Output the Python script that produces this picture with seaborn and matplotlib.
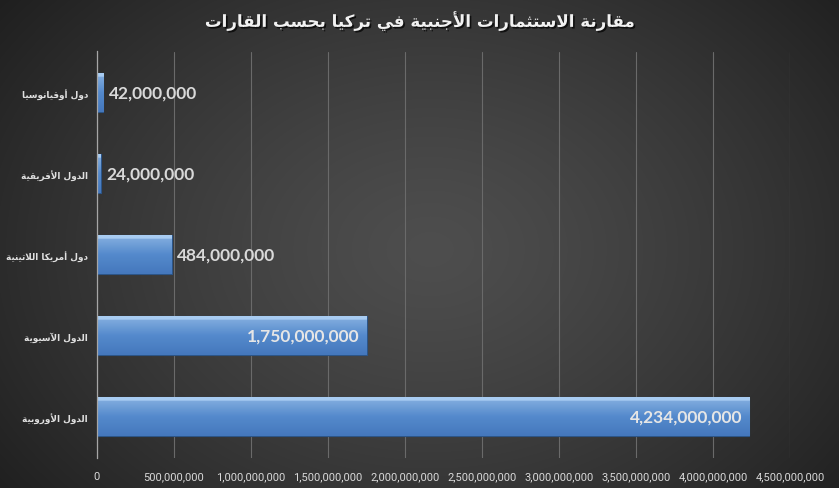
import numpy as np
import pandas as pd
import matplotlib
matplotlib.use("Agg")
import matplotlib.pyplot as plt
import matplotlib.patheffects as pe
import seaborn as sns

# ---------------- data ----------------
categories = ["دول أوقيانوسيا", "الدول الأفريقية", "دول أمريكا اللاتينية",
              "الدول الآسيوية", "الدول الأوروبية"]
values = [42000000, 24000000, 484000000, 1750000000, 4234000000]
value_labels = ["42,000,000", "24,000,000", "484,000,000", "1,750,000,000", "4,234,000,000"]
label_inside = [False, False, False, True, True]
x_ticks = [0, 500000000, 1000000000, 1500000000, 2000000000, 2500000000,
           3000000000, 3500000000, 4000000000, 4500000000]
x_tick_labels = ["0", "500,000,000", "1,000,000,000", "1,500,000,000", "2,000,000,000",
                 "2,500,000,000", "3,000,000,000", "3,500,000,000", "4,000,000,000",
                 "4,500,000,000"]
title = "مقارنة الاستثمارات الأجنبية في تركيا بحسب القارات"

# ------------- minimal Arabic shaping (presentation forms + RTL) -------------
FORMS = {
    '\u0621': ('\uFE80',),
    '\u0622': ('\uFE81', '\uFE82'), '\u0623': ('\uFE83', '\uFE84'),
    '\u0624': ('\uFE85', '\uFE86'), '\u0625': ('\uFE87', '\uFE88'),
    '\u0626': ('\uFE89', '\uFE8A', '\uFE8B', '\uFE8C'),
    '\u0627': ('\uFE8D', '\uFE8E'),
    '\u0628': ('\uFE8F', '\uFE90', '\uFE91', '\uFE92'),
    '\u0629': ('\uFE93', '\uFE94'),
    '\u062A': ('\uFE95', '\uFE96', '\uFE97', '\uFE98'),
    '\u062B': ('\uFE99', '\uFE9A', '\uFE9B', '\uFE9C'),
    '\u062C': ('\uFE9D', '\uFE9E', '\uFE9F', '\uFEA0'),
    '\u062D': ('\uFEA1', '\uFEA2', '\uFEA3', '\uFEA4'),
    '\u062E': ('\uFEA5', '\uFEA6', '\uFEA7', '\uFEA8'),
    '\u062F': ('\uFEA9', '\uFEAA'), '\u0630': ('\uFEAB', '\uFEAC'),
    '\u0631': ('\uFEAD', '\uFEAE'), '\u0632': ('\uFEAF', '\uFEB0'),
    '\u0633': ('\uFEB1', '\uFEB2', '\uFEB3', '\uFEB4'),
    '\u0634': ('\uFEB5', '\uFEB6', '\uFEB7', '\uFEB8'),
    '\u0635': ('\uFEB9', '\uFEBA', '\uFEBB', '\uFEBC'),
    '\u0636': ('\uFEBD', '\uFEBE', '\uFEBF', '\uFEC0'),
    '\u0637': ('\uFEC1', '\uFEC2', '\uFEC3', '\uFEC4'),
    '\u0638': ('\uFEC5', '\uFEC6', '\uFEC7', '\uFEC8'),
    '\u0639': ('\uFEC9', '\uFECA', '\uFECB', '\uFECC'),
    '\u063A': ('\uFECD', '\uFECE', '\uFECF', '\uFED0'),
    '\u0641': ('\uFED1', '\uFED2', '\uFED3', '\uFED4'),
    '\u0642': ('\uFED5', '\uFED6', '\uFED7', '\uFED8'),
    '\u0643': ('\uFED9', '\uFEDA', '\uFEDB', '\uFEDC'),
    '\u0644': ('\uFEDD', '\uFEDE', '\uFEDF', '\uFEE0'),
    '\u0645': ('\uFEE1', '\uFEE2', '\uFEE3', '\uFEE4'),
    '\u0646': ('\uFEE5', '\uFEE6', '\uFEE7', '\uFEE8'),
    '\u0647': ('\uFEE9', '\uFEEA', '\uFEEB', '\uFEEC'),
    '\u0648': ('\uFEED', '\uFEEE'), '\u0649': ('\uFEEF', '\uFEF0'),
    '\u064A': ('\uFEF1', '\uFEF2', '\uFEF3', '\uFEF4'),
}
LAM_ALEF = {'\u0622': ('\uFEF5', '\uFEF6'), '\u0623': ('\uFEF7', '\uFEF8'),
            '\u0625': ('\uFEF9', '\uFEFA'), '\u0627': ('\uFEFB', '\uFEFC')}


def shape(text):
    toks = []
    i = 0
    while i < len(text):
        c = text[i]
        if c == '\u0644' and i + 1 < len(text) and text[i + 1] in LAM_ALEF:
            toks.append(LAM_ALEF[text[i + 1]])
            i += 2
            continue
        toks.append(FORMS.get(c, c))
        i += 1
    out = []
    n = len(toks)
    for k, t in enumerate(toks):
        if isinstance(t, str):
            out.append(t)
            continue
        prev = toks[k - 1] if k > 0 else None
        nxt = toks[k + 1] if k + 1 < n else None
        cp = isinstance(prev, tuple) and len(prev) == 4
        cn = len(t) == 4 and isinstance(nxt, tuple)
        if len(t) == 1:
            out.append(t[0])
        elif cp and cn:
            out.append(t[3])
        elif cp:
            out.append(t[1])
        elif cn:
            out.append(t[2])
        else:
            out.append(t[0])
    return ''.join(out)[::-1]


# ---------------- figure ----------------
sns.set_theme(style="white")
plt.rcParams['font.family'] = ['DejaVu Sans']

W, H = 839, 489
fig = plt.figure(figsize=(W / 100, H / 100), dpi=100)

# radial gradient background
bg = fig.add_axes([0, 0, 1, 1], zorder=-10)
yy, xx = np.mgrid[0:H, 0:W]
r = np.sqrt(((xx - 430) / 560.0) ** 2 + ((yy - 250) / 420.0) ** 2)
r = np.clip(r, 0, 1)
val = 0.305 - 0.19 * r ** 1.3
bg.imshow(np.dstack([val, val, val]), aspect='auto', extent=[0, 1, 0, 1])
bg.set_axis_off()

ax = fig.add_axes([97 / W, 1 - 458.5 / H, 693 / W, 406 / H])
ax.set_facecolor('none')

df = pd.DataFrame({"category": categories, "value": values})
sns.barplot(data=df, x="value", y="category", orient="h", ax=ax,
            color="#4f86c6", width=0.48, edgecolor="#2c5588", linewidth=0.8,
            saturation=1, zorder=3)

# gradient fill for each bar
grad = np.linspace(0, 1, 64)
top_c = np.array([0.50, 0.67, 0.87])
mid_c = np.array([0.33, 0.54, 0.80])
bot_c = np.array([0.27, 0.47, 0.74])
rows = []
for g in grad:
    if g < 0.08:
        c = np.array([0.66, 0.80, 0.95])
    elif g < 0.5:
        t = (g - 0.08) / 0.42
        c = top_c * (1 - t) + mid_c * t
    else:
        t = (g - 0.5) / 0.5
        c = mid_c * (1 - t) + bot_c * t
    rows.append(c)
gimg = np.array(rows).reshape(-1, 1, 3)
for p in ax.patches:
    x0, y0 = p.get_x(), p.get_y()
    w, h = p.get_width(), p.get_height()
    im = ax.imshow(gimg, aspect='auto', extent=[x0, x0 + w, y0 + h, y0],
                   zorder=3.5, interpolation='bilinear')
    im.set_clip_path(p)

ax.set_xlim(0, 4500000000)
ax.set_ylim(4.5, -0.5)
ax.set_xticks(x_ticks)
ax.set_xticklabels(x_tick_labels, fontfamily=['Roboto', 'DejaVu Sans'],
                   fontsize=8, color="#d9d9d9")
ax.set_yticks(range(len(categories)))
ax.set_yticklabels([shape(c) for c in categories], fontsize=6.4,
                   fontweight='bold', color="#e0e0e0")
ax.tick_params(axis='x', length=0, pad=10)
ax.tick_params(axis='y', length=0, pad=6.5)
ax.set_xlabel("")
ax.set_ylabel("")
ax.grid(axis='x', color="#6a6a6a", linewidth=0.8, zorder=0)
ax.grid(axis='y', visible=False)
for s in ["top", "right", "bottom"]:
    ax.spines[s].set_visible(False)
ax.spines["left"].set_color("#a6a6a6")
ax.spines["left"].set_linewidth(0.9)
ax.spines["left"].set_zorder(5)

# value labels
for i, (v, lab, inside) in enumerate(zip(values, value_labels, label_inside)):
    if inside:
        ax.annotate(lab, (v, i), xytext=(-5, 0), textcoords='offset points',
                    ha='right', va='center', fontsize=12.5, fontweight='bold',
                    fontfamily=['Lato', 'DejaVu Sans'], color="#e6e6e6", zorder=6)
    else:
        ax.annotate(lab, (v, i), xytext=(4, 0), textcoords='offset points',
                    ha='left', va='center', fontsize=12.5, fontweight='bold',
                    fontfamily=['Lato', 'DejaVu Sans'], color="#d9d9d9", zorder=6)

fig.text(0.5, 1 - 22 / H, shape(title), ha='center', va='center',
         fontsize=12, fontweight='bold', color="#f2f2f2",
         path_effects=[pe.withSimplePatchShadow(offset=(1.2, -1.2),
                                                shadow_rgbFace='black', alpha=0.7)])

fig.savefig("out.png", dpi=100)
